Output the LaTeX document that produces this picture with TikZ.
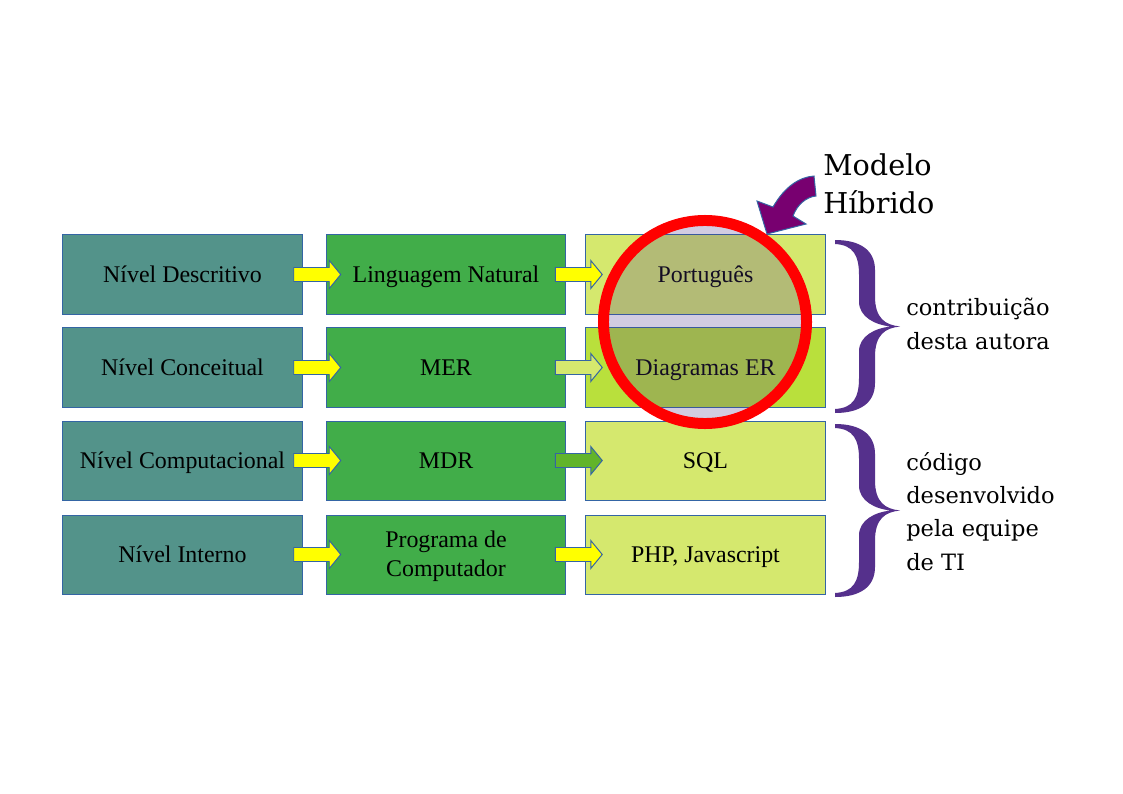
\documentclass[tikz,border=0pt]{standalone}
\usepackage{fontspec}
\setmainfont{Liberation Serif}
\newfontfamily\rotulo{DejaVu Serif}
\usetikzlibrary{calc}
\definecolor{borda}{RGB}{52,101,164}
\definecolor{verdeazul}{RGB}{83,147,138}
\definecolor{verdemedio}{RGB}{65,173,73}
\definecolor{verdeclaro}{RGB}{213,232,110}
\definecolor{verdelima}{RGB}{185,224,60}
\definecolor{verdeseta}{RGB}{97,180,42}
\definecolor{amarelo}{RGB}{255,255,0}
\definecolor{lilas}{RGB}{79,55,143}
\definecolor{roxoseta}{RGB}{120,0,112}
\definecolor{roxochave}{RGB}{85,48,140}
\definecolor{vermelho}{RGB}{255,0,0}

% block arrow between two boxes
\newcommand{\seta}[3]{%
  \coordinate (meio) at ($(#1.east)!0.5!(#2.west)+(3,0)$);
  \filldraw[draw=borda, line width=0.7pt, fill=#3]
    ($(meio)+(-23.5,7)$) -- ($(meio)+(12,7)$) -- ($(meio)+(12,14)$) --
    ($(meio)+(23.5,0)$) -- ($(meio)+(12,-14)$) -- ($(meio)+(12,-7)$) --
    ($(meio)+(-23.5,-7)$) -- cycle;}

% curly brace, top left corner at (#1,#2)
\newcommand{\chave}[2]{%
  \fill[roxochave, shift={(#1,#2)}] (0,0) .. controls (25,0) and (40,10) .. (40,30)
    -- (40,56.5) .. controls (40,78) and (50,85) .. (65,86.5)
    .. controls (50,88) and (40,95) .. (40,116.5)
    -- (40,143) .. controls (40,163) and (25,173) .. (0,173)
    -- (0,169) .. controls (18,168) and (24,158) .. (24,138)
    -- (24,111.5) .. controls (24,96) and (40,88) .. (56,86.5)
    .. controls (40,85) and (24,77) .. (24,61.5)
    -- (24,35) .. controls (24,15) and (18,5) .. (0,4) -- cycle;}

\begin{document}
\begin{tikzpicture}[x=0.025cm, y=-0.025cm,
  caixa/.style={draw=borda, line width=0.7pt, minimum width=5.975cm, minimum height=1.975cm,
    inner sep=0pt, align=center, text height=11.3pt, text depth=0pt,
    font=\fontsize{17}{20.5}\selectfont},
  texto/.style={anchor=north west, inner sep=0pt, align=left}]
\useasboundingbox (0,0) rectangle (1123,794);
\fill[white] (0,0) rectangle (1123,794);

\node[caixa, fill=verdeazul] (n1) at (182.5,274.5) {Nível Descritivo};
\node[caixa, fill=verdeazul] (n2) at (182.5,367.5) {Nível Conceitual};
\node[caixa, fill=verdeazul] (n3) at (182.5,460.5) {Nível Computacional};
\node[caixa, fill=verdeazul] (n4) at (182.5,554.5) {Nível Interno};
\node[caixa, fill=verdemedio] (m1) at (446,274.5) {Linguagem Natural};
\node[caixa, fill=verdemedio] (m2) at (446,367.5) {MER};
\node[caixa, fill=verdemedio] (m3) at (446,460.5) {MDR};
\node[caixa, fill=verdemedio, text height=31.4pt] (m4) at (446,554.5) {Programa de\\Computador};
\node[caixa, fill=verdeclaro] (t1) at (705.5,274.5) {Português};
\node[caixa, fill=verdelima] (t2) at (705.5,367.5) {Diagramas ER};
\node[caixa, fill=verdeclaro] (t3) at (705.5,460.5) {SQL};
\node[caixa, fill=verdeclaro] (t4) at (705.5,554.5) {PHP, Javascript};

\seta{n1}{m1}{amarelo}
\seta{n2}{m2}{amarelo}
\seta{n3}{m3}{amarelo}
\seta{n4}{m4}{amarelo}
\seta{m1}{t1}{amarelo}
\seta{m2}{t2}{verdeclaro}
\seta{m3}{t3}{verdeseta}
\seta{m4}{t4}{amarelo}

\node[shape=circle, minimum size=5.075cm, inner sep=0pt, draw=vermelho, line width=7.8pt,
  fill=lilas, fill opacity=0.25, draw opacity=1] (hibrido) at (705,322) {};

\filldraw[draw=borda, line width=0.7pt, fill=roxoseta] (814,176) -- (816,196)
  .. controls (806,197) and (797,205) .. (793,216) -- (806,224) -- (767,234)
  -- (757,201) -- (773,207) .. controls (785,186) and (800,177) .. (814,176) -- cycle;

\chave{835}{240}
\chave{835}{424}

\node[texto, font=\rotulo\fontsize{20.4}{27}\selectfont] (modelo) at (823,153) {Modelo\\Híbrido};
\node[texto, font=\rotulo\fontsize{16}{23.7}\selectfont] (autora) at (906,298) {contribuição\\desta autora};
\node[texto, font=\rotulo\fontsize{16}{23.7}\selectfont] (equipe) at (906,452) {código\\desenvolvido\\pela equipe\\de TI};
\end{tikzpicture}
\end{document}
